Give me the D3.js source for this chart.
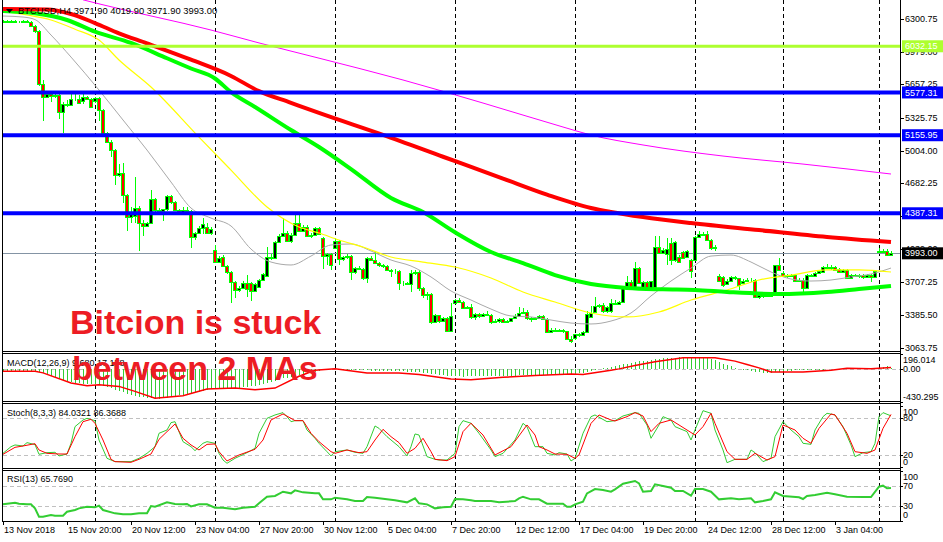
<!DOCTYPE html>
<html><head><meta charset="utf-8">
<script src="https://cdn.jsdelivr.net/npm/d3@7"></script>
<style>
body{margin:0;background:#fff}
svg{display:block}
text{font-family:"Liberation Sans",Arial,sans-serif}
</style></head>
<body><svg id="c" width="943" height="542"></svg>
<script>
// ---------- DATA ----------
const opens=[6275,6280,6272,6278,6275,6270,6282,6275,6230,6180,
5658,5535,5560,5540,5555,5385,5465,5450,5510,5515,
5490,5530,5515,5490,5520,5405,5180,5092,5010,4765,
4780,4567,4355,4360,4435,4290,4265,4290,4525,4420,
4410,4425,4555,4500,4420,4395,4420,4410,4157,4190,
4239,4250,4195,4025,3910,3955,3872,3806,3707,3632,
3650,3705,3700,3625,3665,3730,3770,3960,3945,4108,
4165,4195,4110,4170,4290,4215,4250,4168,4175,4238,
4141,3970,3985,4048,4114,3940,3955,3962,3812,3850,
3840,3746,3950,3930,3894,3875,3865,3830,3815,3820,
3697,3705,3690,3795,3805,3650,3582,3595,3320,3385,
3330,3355,3225,3500,3530,3515,3458,3465,3370,3395,
3375,3395,3390,3320,3325,3350,3315,3330,3352,3380,
3410,3418,3355,3350,3358,3375,3348,3222,3240,3232,
3238,3225,3150,3156,3195,3185,3220,3365,3415,3472,
3480,3420,3420,3505,3490,3510,3658,3712,3660,3845,
3650,3712,3650,3660,4058,4000,3985,4090,3925,3960,
4009,3953,3927,3927,4157,4180,4180,4125,4045,3773,
3763,3690,3725,3755,3745,3700,3725,3735,3730,3566,
3580,3570,3570,3598,3875,3800,3770,3778,3775,3725,
3735,3650,3778,3765,3795,3805,3860,3850,3860,3835,
3805,3825,3748,3775,3765,3775,3755,3775,3760,4010,
4020,4015,3971.9];
const highs=[6290,6292,6288,6290,6285,6288,6295,6285,6240,6190,
5700,5590,5580,5575,5560,5480,5500,5585,5560,5550,
5560,5545,5525,5535,5530,5410,5190,5110,5020,4870,
4880,4580,4450,4745,4460,4320,4300,4615,4540,4440,
4430,4570,4565,4510,4430,4450,4445,4420,4200,4260,
4340,4290,4250,4075,3970,3975,3880,3815,3720,3670,
3720,3780,3712,3705,3740,3800,4060,3990,4115,4180,
4340,4210,4190,4370,4390,4270,4275,4190,4250,4255,
4150,4000,3995,4140,4120,3970,3985,3975,3860,3865,
3850,3960,3965,4010,3910,3890,3875,3840,3835,3830,
3720,3715,3830,3830,3830,3660,3610,3600,3400,3390,
3370,3365,3500,3545,3550,3525,3475,3490,3410,3405,
3405,3420,3395,3345,3360,3360,3340,3360,3395,3460,
3450,3430,3370,3365,3385,3385,3360,3255,3255,3250,
3250,3232,3175,3200,3210,3230,3420,3470,3560,3495,
3500,3475,3540,3530,3525,3670,3765,3730,3910,3860,
3720,3725,3725,4160,4160,4050,4140,4140,4110,3975,
4020,4030,3935,4165,4215,4200,4210,4135,4075,3790,
3770,3740,3770,3770,3750,3740,3745,3750,3740,3590,
3595,3590,3610,3870,3945,3815,3790,3790,3790,3745,
3745,3790,3790,3805,3830,3870,3890,3875,3865,3850,
3835,3835,3790,3790,3785,3785,3785,3785,3830,4045,
4040,4035,4019.9];
const lows=[6262,6268,6265,6268,6262,6262,6270,6220,6160,5640,
5300,5520,5480,5520,5320,5180,5430,5440,5490,5460,
5460,5505,5420,5470,5300,5170,5080,4945,4670,4740,
4485,4215,4290,4290,4020,4160,4250,4280,4400,4380,
4310,4410,4480,4410,4370,4380,4390,4045,4120,4180,
4180,4180,4170,3900,3900,3860,3790,3500,3555,3610,
3640,3565,3525,3615,3650,3720,3760,3930,3935,4095,
4150,4100,4095,4160,4200,4200,4160,4140,4165,4170,
3840,3880,3830,4040,3875,3920,3935,3735,3790,3830,
3735,3705,3920,3885,3860,3850,3820,3760,3790,3630,
3670,3680,3615,3780,3620,3550,3530,3300,3310,3310,
3320,3215,3215,3490,3500,3450,3440,3350,3340,3360,
3365,3380,3300,3310,3310,3305,3305,3320,3345,3375,
3395,3340,3320,3335,3345,3340,3215,3205,3220,3215,
3205,3140,3105,3140,3170,3175,3210,3360,3405,3450,
3410,3405,3410,3480,3480,3500,3645,3645,3650,3690,
3640,3640,3640,3640,3990,3985,3880,3880,3910,3900,
3935,3945,3745,3915,4145,4160,4115,4030,4020,3710,
3665,3680,3715,3735,3630,3690,3710,3715,3555,3545,
3555,3560,3560,3590,3820,3755,3750,3755,3715,3710,
3605,3645,3755,3755,3785,3795,3840,3830,3815,3795,
3795,3740,3740,3755,3750,3740,3745,3715,3745,4000,
4000,3965,3971.9];
const closes=[6280,6272,6278,6275,6270,6282,6275,6230,6180,5658,
5530,5560,5540,5555,5385,5465,5450,5510,5515,5470,
5530,5515,5432,5520,5405,5180,5092,5010,4765,4780,
4567,4355,4400,4435,4290,4265,4290,4525,4420,4410,
4425,4555,4500,4420,4395,4420,4410,4157,4190,4245,
4280,4195,4235,3910,3945,3872,3806,3707,3632,3655,
3705,3640,3625,3695,3730,3785,3960,3945,4108,4165,
4195,4110,4170,4290,4215,4250,4168,4175,4238,4182,
3970,3985,3878,4114,3940,3955,3962,3812,3850,3840,
3746,3950,3930,3894,3875,3865,3830,3815,3820,3697,
3705,3690,3795,3805,3650,3582,3595,3320,3385,3330,
3355,3225,3380,3530,3515,3458,3465,3370,3395,3375,
3395,3390,3320,3330,3350,3315,3330,3352,3380,3410,
3418,3355,3350,3358,3375,3348,3222,3240,3232,3238,
3225,3150,3125,3195,3185,3220,3400,3410,3472,3480,
3420,3467,3505,3490,3510,3658,3712,3660,3845,3700,
3712,3650,3720,4058,4000,4030,4040,3930,4100,3912,
3944,4018,3822,4157,4180,4170,4125,4045,4060,3718,
3685,3725,3755,3745,3682,3725,3735,3728,3566,3580,
3570,3580,3598,3875,3830,3770,3778,3765,3725,3735,
3650,3778,3768,3795,3815,3860,3850,3860,3830,3805,
3825,3748,3775,3765,3775,3755,3775,3760,3820,4020,
4010,3972,3993.0];

// moving averages: [bar index, price]
const maRed=[[0,6400],[11,6395],[17,6350],[23,6261],[29,6160],[36,6061],[47,5900],[57,5740],[64,5590],[72,5475],[79,5375],[95,5159],[110,4944],[125,4729],[136,4571],[147,4439],[152,4400],[160,4350],[172,4291],[189,4222],[206,4154],[222,4104]];
const maGreen=[[0,6380],[8,6357],[16,6291],[23,6176],[32,6065],[41,5914],[47,5813],[53,5715],[57,5580],[63,5434],[72,5207],[79,5040],[87,4823],[97,4538],[105,4400],[113,4200],[122,4006],[130,3897],[138,3779],[147,3690],[156,3651],[165,3638],[173,3632],[181,3612],[194,3592],[206,3612],[214,3641],[222,3671]];
const maYellow=[[0,6375],[6,6340],[12,6291],[18,6200],[24,6094],[29,5897],[37,5631],[49,5138],[57,4813],[66,4449],[74,4252],[79,4193],[84,4124],[90,4055],[97,3957],[105,3907],[113,3858],[122,3750],[130,3612],[138,3513],[147,3405],[156,3366],[164,3415],[172,3533],[181,3632],[189,3730],[197,3779],[206,3829],[214,3829],[222,3809]];
const maGray=[[0,6330],[5,6320],[8,6295],[12,6143],[17,5926],[24,5601],[30,5306],[36,5010],[42,4695],[47,4439],[52,4340],[57,4262],[62,4035],[67,3907],[72,3878],[77,3966],[82,4075],[87,4085],[92,4016],[97,3927],[102,3868],[107,3760],[112,3622],[117,3533],[122,3444],[127,3376],[132,3366],[137,3336],[142,3306],[147,3297],[152,3326],[157,3405],[162,3573],[167,3720],[172,3848],[177,3966],[182,3976],[187,3907],[192,3809],[197,3740],[202,3720],[207,3730],[212,3760],[217,3789],[222,3848]];
const maMagenta=[[20,6490],[24,6450],[52,6192],[64,6065],[79,5915],[100,5700],[120,5473],[140,5237],[147,5158],[160,5060],[180,4951],[200,4872],[222,4774]];

const hLevels=[6032.15,5577.31,5155.95,4387.31];
const hLevelColors=["#ADFF2F","#0000FF","#0000FF","#0000FF"];
const lastPrice=3993.00;
const priceTicks=["6300.75","5979.00","5657.25","5325.75","5004.00","4682.25","4360.50","4039.00","3707.25","3385.50","3063.75"];
const timeLabels=["13 Nov 2018","15 Nov 20:00","20 Nov 12:00","23 Nov 04:00","27 Nov 20:00","30 Nov 12:00","5 Dec 04:00","7 Dec 20:00","12 Dec 12:00","17 Dec 04:00","19 Dec 20:00","24 Dec 12:00","28 Dec 12:00","3 Jan 04:00"];
const separators=[23,53,83,113,143,173,195,219];

const macdHist=[-30,-30,-32,-32,-33,-33,-34,-35,-36,
-40,-60,-80,-95,-110,-130,-150,-165,-175,-185,-190,-195,-200,-205,
-205,-210,-225,-240,-255,-275,-290,-310,-330,-345,-355,-365,-375,-385,-390,-395,-395,
-390,-380,-370,-360,-350,-340,-330,-320,-310,-300,-290,-280,-270,
-265,-265,-262,-260,-258,-255,-250,-245,-240,-232,-225,-215,
-200,-185,-170,-155,-140,-125,-115,-105,-90,-80,-70,-60,-50,-40,-30,-20,-10,-5,
-5,-8,-10,-12,-12,-15,-15,-18,
-20,-22,-24,-25,-26,-28,-30,-30,-32,-34,-35,-38,-40,-42,
-48,-55,-62,-70,-78,-85,-90,-95,-98,-100,-102,-100,
-100,-100,-98,-97,-95,-95,
-92,-92,-90,-90,-88,-88,-86,-85,
-85,-84,-83,-82,-80,-80,-78,-78,-76,-75,
-72,-68,-64,-60,-55,
-45,-30,-15,-5,5,15,25,35,45,60,70,80,90,100,105,110,115,125,135,140,145,145,148,150,150,148,145,145,148,148,145,135,120,90,70,50,35,15,
0,-10,-20,-25,-35,-45,-50,-55,-50,-40,-35,-30,
-25,-22,-20,-18,-15,-14,-12,-11,-10,-10,
-5,-4,-2,0,2,3,4,5,5,4,3,5,10,
15,25,40,10];
const macdSignal=[[0,-31],[8,-31],[10,-53],[17,-186],[21,-222],[24,-208],[29,-231],[33,-297],[38,-386],[45,-355],[51,-266],[58,-253],[63,-275],[68,-253],[74,-98],[78,-18],[83,0],[91,-53],[99,-53],[104,-75],[112,-133],[117,-142],[125,-111],[133,-89],[142,-67],[145,-75],[152,-18],[154,0],[158,44],[163,93],[170,146],[178,146],[183,102],[186,58],[189,13],[192,-40],[200,-40],[207,-18],[211,9],[217,0],[222,18]];

const stochK=[[0,22.7],[2,33.6],[3,36.4],[5,34.7],[6,40.2],[8,37],[9,21.1],[11,23.8],[13,24.4],[14,18.4],[16,21.6],[17,39.1],[18,66.4],[20,77.3],[21,80],[23,76.2],[24,44.5],[26,14.5],[28,9.1],[30,9.1],[32,9.1],[34,14.5],[36,22.7],[38,33.6],[39,55.5],[41,60.9],[42,72.9],[43,74.5],[45,41.8],[47,33.6],[48,27.1],[50,39.1],[51,41.8],[53,39.1],[54,22.7],[55,11.8],[56,6.4],[58,14.5],[61,23.8],[63,30.9],[64,55.5],[66,80],[68,85.5],[70,89.3],[71,82.7],[72,74.5],[73,76.2],[75,76.2],[76,60.9],[78,47.3],[79,39.1],[81,25.4],[82,18.4],[83,25.4],[86,28.2],[88,24.4],[90,22.7],[91,33.6],[93,67.5],[94,63.6],[96,50],[99,33.6],[101,18.4],[102,33.6],[103,54.4],[104,52.7],[106,17.3],[108,12.9],[109,11.8],[111,11.8],[113,22.7],[114,66.4],[115,76.2],[117,72],[119,55.5],[122,28.2],[123,17.3],[125,22.7],[128,44.5],[130,71.8],[131,66.4],[133,33.6],[135,33.6],[136,22.7],[138,20],[139,23.8],[141,21.6],[142,10.2],[143,14.5],[145,55.5],[147,82.7],[148,85.5],[151,74.5],[153,76.2],[155,83.8],[158,89.3],[159,88.2],[161,69.1],[162,47.3],[164,69.1],[165,82.7],[167,77.3],[168,66.4],[171,58.2],[172,44.5],[173,60.9],[175,92.5],[177,88.2],[178,60.9],[180,28.2],[181,7.4],[183,12.9],[186,12.9],[187,28.2],[188,23.8],[190,9.1],[192,14.5],[193,50],[195,74.5],[197,60.9],[199,50],[200,39.1],[202,37.4],[203,60.9],[205,82.7],[206,88.2],[208,85.5],[210,66.4],[212,36.4],[213,17.3],[215,23.8],[217,25.4],[218,39.1],[219,82.7],[220,89.3],[222,84.0]];
const stochD=[[0,21.1],[3,32.5],[5,34.7],[8,38.5],[9,28.2],[11,22.7],[14,21.6],[16,21.6],[18,50],[20,74.5],[22,78.4],[23,71.8],[25,44.5],[27,12.9],[28,9.1],[32,8],[34,12.9],[37,21.6],[39,45.6],[41,58.2],[43,70.7],[45,47.3],[47,36.4],[49,28.2],[51,37.4],[53,38],[54,25.4],[56,10.2],[59,20],[63,29.3],[65,44.5],[67,77.3],[70,87.1],[72,80],[73,76.2],[75,76.2],[77,55.5],[79,41.8],[82,25.4],[83,22.7],[86,28.2],[89,23.8],[91,25.4],[93,44.5],[95,62],[97,50],[99,40.2],[101,22.7],[103,30.9],[105,47.3],[107,25.4],[108,12.9],[111,10.7],[113,17.3],[115,58.2],[117,72],[120,52.7],[123,20],[127,33.6],[131,69.1],[133,52.7],[134,33.6],[136,28.2],[138,21.6],[141,21.1],[143,14.5],[144,20],[147,71.8],[149,85.5],[152,77.3],[153,75.6],[156,82.7],[158,89.3],[160,83.8],[162,58.2],[164,71.8],[167,77.3],[169,69.1],[173,52.7],[175,66.4],[177,88.2],[178,71.8],[181,25.4],[183,12.9],[186,12.9],[188,22.7],[191,11.8],[193,17.3],[195,69.1],[198,60.9],[200,47.3],[202,39.1],[204,63.6],[207,87.1],[208,85.5],[211,55.5],[213,25.4],[216,22.7],[218,28.2],[220,63.6],[222,86.4]];
const rsiVals=[[0,33.3],[3,36.6],[4,34.6],[6,33.3],[7,33.3],[8,25.3],[9,8.6],[10,8.6],[12,12],[13,10.6],[15,10.6],[16,18.6],[18,22],[19,25.3],[21,28.6],[23,27.3],[24,30.6],[25,22],[28,15.3],[30,13.3],[32,13.3],[34,15.3],[36,15.3],[37,30],[38,28.6],[41,37.3],[43,34],[45,33.3],[46,34],[47,29.3],[49,33.3],[51,33.3],[53,26.6],[55,26.6],[58,23.3],[60,26.6],[63,28.6],[64,35.3],[66,48.6],[68,50],[70,58.6],[72,55.3],[73,61.3],[75,57.3],[78,55.3],[79,55.3],[80,43.3],[82,43.3],[83,46.6],[86,43.3],[88,40],[90,40],[91,48],[93,46.6],[96,43.3],[98,41.3],[101,37.3],[103,45.3],[104,35.3],[106,33.3],[108,25.3],[110,27.3],[112,28.6],[113,44],[115,43.3],[117,41.3],[118,40],[122,40],[124,37.3],[128,40],[129,45.3],[130,48.6],[132,43.3],[134,43.3],[136,34.6],[140,34.6],[141,28.6],[142,28.6],[143,33.3],[145,38.6],[146,55.3],[148,64],[150,62],[152,58.6],[153,63.3],[155,74.6],[158,80],[159,75.3],[160,58.6],[162,60],[163,73.3],[165,70],[167,66.6],[168,60],[170,60],[172,50.6],[173,64],[175,64],[177,58.6],[179,43.3],[182,45.3],[184,43.3],[187,45.3],[188,37.3],[190,40],[192,43.3],[193,57.3],[195,50],[199,47.3],[200,44],[201,50],[203,52],[206,56.6],[208,53.3],[211,48.6],[215,48],[217,48],[219,68.6],[220,70.6],[221,65.3],[222,65.8]];

// ---------- LAYOUT ----------
const svg=d3.select("#c");
const R=900; // plot right edge
const P={main:[0,351],macd:[353,401],stoch:[403,468],rsi:[470,521]};
const x=d3.scaleLinear().domain([0,222]).range([3,891]);
const yP=d3.scaleLinear().domain([3063.75,6300.75]).range([347.66,19]);
const yM=d3.scaleLinear().domain([-430.295,196.014]).range([401.5,354]);
const yS=d3.scaleLinear().domain([0,100]).range([467.2,406.1]);
const yR=d3.scaleLinear().domain([0,100]).range([521,471]);

svg.append("rect").attr("width",943).attr("height",542).attr("fill","#fff");
const defs=svg.append("defs");
defs.append("clipPath").attr("id","cm").append("rect").attr("x",3).attr("y",0).attr("width",R-3).attr("height",351);
defs.append("clipPath").attr("id","cmacd").append("rect").attr("x",3).attr("y",354).attr("width",R-3).attr("height",47);

// separators
const sepG=svg.append("g");
separators.forEach(i=>{
  sepG.append("line").attr("x1",x(i)+0.5).attr("x2",x(i)+0.5).attr("y1",0).attr("y2",521)
   .attr("stroke","#000").attr("stroke-dasharray","4,3").attr("stroke-width",1);
});

// indicator levels
function level(y){svg.append("line").attr("x1",3).attr("x2",R).attr("y1",Math.round(y)+0.5).attr("y2",Math.round(y)+0.5)
  .attr("stroke","#c0c0c0").attr("stroke-dasharray","4,3");}
level(yM(0)); level(yS(80)); level(yS(20)); level(yR(70)); level(yR(30));

// ---------- MAIN PANEL ----------
const gm=svg.append("g").attr("clip-path","url(#cm)");
gm.append("line").attr("x1",3).attr("x2",R).attr("y1",Math.round(yP(lastPrice))+0.5).attr("y2",Math.round(yP(lastPrice))+0.5)
  .attr("stroke","#8494a4").attr("stroke-width",1);
const cg=gm.append("g").attr("shape-rendering","crispEdges");
closes.forEach((c,i)=>{
  const o=opens[i],h=highs[i],l=lows[i],xc=x(i);
  cg.append("line").attr("x1",xc+0.5).attr("x2",xc+0.5).attr("y1",yP(h)).attr("y2",yP(l)).attr("stroke","#00ff00");
  const top=yP(Math.max(o,c)),bot=yP(Math.min(o,c));
  cg.append("rect").attr("x",xc-1.5).attr("y",Math.round(top)+0.5).attr("width",3)
    .attr("height",Math.max(0,Math.round(bot)-Math.round(top)))
    .attr("fill",c>=o?"#000":"#ff0000").attr("stroke","#00ff00").attr("stroke-width",1);
});
const maLine=d3.line().x(d=>x(d[0])).y(d=>yP(d[1])).curve(d3.curveMonotoneX);
gm.append("path").attr("d",maLine(maMagenta)).attr("fill","none").attr("stroke","#ff00ff").attr("stroke-width",1);
gm.append("path").attr("d",maLine(maGray)).attr("fill","none").attr("stroke","#a9a9a9").attr("stroke-width",1);
gm.append("path").attr("d",maLine(maYellow)).attr("fill","none").attr("stroke","#ffff00").attr("stroke-width",1.2);
gm.append("path").attr("d",maLine(maGreen)).attr("fill","none").attr("stroke","#00ff00").attr("stroke-width",4);
gm.append("path").attr("d",maLine(maRed)).attr("fill","none").attr("stroke","#ff0000").attr("stroke-width",4);
hLevels.forEach((v,k)=>{
  gm.append("line").attr("x1",3).attr("x2",R).attr("y1",yP(v)).attr("y2",yP(v))
    .attr("stroke",hLevelColors[k]).attr("stroke-width",k===0?3:4);
});

// ---------- MACD ----------
const gmacd=svg.append("g").attr("clip-path","url(#cmacd)");
macdHist.forEach((v,i)=>{
  gmacd.append("line").attr("x1",x(i)+0.5).attr("x2",x(i)+0.5).attr("y1",yM(0)).attr("y2",yM(v))
    .attr("stroke","#32cd32").attr("stroke-width",1).attr("shape-rendering","crispEdges");
});
gmacd.append("path").attr("d",d3.line().x(d=>x(d[0])).y(d=>yM(d[1]))(macdSignal))
  .attr("fill","none").attr("stroke","#ff0000").attr("stroke-width",1.5);

// ---------- STOCH ----------
const sLine=d3.line().x(d=>x(d[0])).y(d=>yS(d[1]));
svg.append("path").attr("d",sLine(stochK)).attr("fill","none").attr("stroke","#32cd32").attr("stroke-width",1);
svg.append("path").attr("d",sLine(stochD)).attr("fill","none").attr("stroke","#ff0000").attr("stroke-width",1);

// ---------- RSI ----------
svg.append("path").attr("d",d3.line().x(d=>x(d[0])).y(d=>yR(d[1]))(rsiVals))
  .attr("fill","none").attr("stroke","#32cd32").attr("stroke-width",2);

// ---------- FRAMES ----------
const fr=svg.append("g").attr("fill","none").attr("stroke","#000").attr("shape-rendering","crispEdges");
fr.append("line").attr("x1",2.5).attr("x2",2.5).attr("y1",0).attr("y2",521.5);
fr.append("line").attr("x1",R+0.5).attr("x2",R+0.5).attr("y1",0).attr("y2",521.5);
[P.main[1],P.macd[0],P.macd[1],P.stoch[0],P.stoch[1],P.rsi[0],P.rsi[1]].forEach(a=>{
  fr.append("line").attr("x1",2.5).attr("x2",R+0.5).attr("y1",a+0.5).attr("y2",a+0.5);
});

// ---------- AXES ----------
const ax=svg.append("g").attr("font-size",9).attr("fill","#000");
priceTicks.forEach(t=>{
  const y=yP(+t);
  ax.append("line").attr("x1",R).attr("x2",R+4).attr("y1",Math.round(y)+0.5).attr("y2",Math.round(y)+0.5).attr("stroke","#000");
  ax.append("text").attr("x",905).attr("y",y).attr("dy","0.35em").text(t);
});
const boxVals=hLevels.concat([lastPrice]);
const boxCols=hLevelColors.concat(["#000"]);
boxVals.forEach((v,k)=>{
  const y=yP(v);
  ax.append("rect").attr("x",902).attr("y",y-6).attr("width",41).attr("height",12).attr("fill",boxCols[k]);
  ax.append("text").attr("x",905).attr("y",y).attr("dy","0.35em").attr("fill","#fff").text(v.toFixed(2));
});
function ilab(txt,yt,yl){
  ax.append("line").attr("x1",R).attr("x2",R+3).attr("y1",Math.round(yt)+0.5).attr("y2",Math.round(yt)+0.5).attr("stroke","#000");
  ax.append("text").attr("x",903).attr("y",yl).attr("dy","0.35em").text(txt);
}
ilab("196.014",yM(196.014),360); ilab("0.00",yM(0),yM(0)); ilab("-430.295",yM(-430.295),397);
ilab("100",yS(100),411.5); ilab("80",yS(80),yS(80)); ilab("20",yS(20),yS(20)); ilab("0",yS(0),461.5);
ilab("100",yR(100),477); ilab("70",yR(70),yR(70)); ilab("30",yR(30),yR(30)); ilab("0",yR(0),515);
timeLabels.forEach((t,k)=>{
  const xi=x(k*16);
  ax.append("line").attr("x1",xi+0.5).attr("x2",xi+0.5).attr("y1",521).attr("y2",525).attr("stroke","#000");
  ax.append("text").attr("x",xi+1).attr("y",529.5).attr("dy","0.35em").text(t);
});

// ---------- TEXT LABELS ----------
svg.append("path").attr("d","M6,9 L13,9 L9.5,13 Z").attr("fill","#000");
svg.append("text").attr("x",18).attr("y",10.5).attr("dy","0.35em").attr("font-size",9.4)
  .text("BTCUSD,H4  3971.90 4019.90 3971.90 3993.00");
svg.append("text").attr("x",7).attr("y",362.5).attr("dy","0.35em").attr("font-size",9).text("MACD(12,26,9) 9.680 17.178");
svg.append("text").attr("x",7).attr("y",413.3).attr("dy","0.35em").attr("font-size",9).text("Stoch(8,3,3) 84.0321 86.3688");
svg.append("text").attr("x",7).attr("y",479.3).attr("dy","0.35em").attr("font-size",9).text("RSI(13) 65.7690");

const big=svg.append("g").attr("fill","#ed1c24").attr("font-weight",700).attr("font-size",34)
  .style("font-family","Roboto, 'Liberation Sans', sans-serif");
big.append("text").attr("x",70).attr("y",334).text("Bitcion is stuck");
big.append("text").attr("x",72).attr("y",380).text("between 2 MAs");
</script></body></html>
